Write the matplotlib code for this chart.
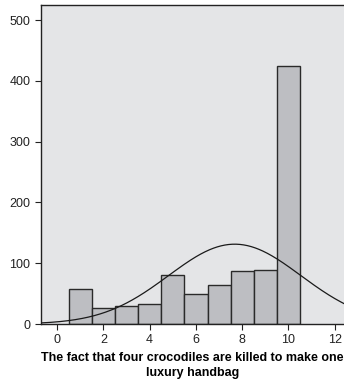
import numpy as np
import matplotlib.pyplot as plt

plt.rcParams['font.family'] = ['Liberation Sans', 'DejaVu Sans']

# Histogram data (response score vs. count)
scores = [1, 2, 3, 4, 5, 6, 7, 8, 9, 10]
counts = [57, 27, 29, 33, 81, 49, 65, 87, 89, 425]
xticks = [0, 2, 4, 6, 8, 10, 12]
yticks = [0, 100, 200, 300, 400, 500]
xlabel = "The fact that four crocodiles are killed to make one\nluxury handbag"

fig = plt.figure(figsize=(3.44, 3.83), dpi=100)
ax = fig.add_axes([0.119, 0.154, 0.881, 0.833])
ax.set_facecolor('#e4e5e7')

ax.bar(scores, counts, width=1.0, color='#bdbec2', edgecolor='#2a2a2a', linewidth=1.0, zorder=2)

# Fitted normal curve
s = np.array(scores, dtype=float)
c = np.array(counts, dtype=float)
n = c.sum()
mu = (s * c).sum() / n
sd = np.sqrt((c * (s - mu) ** 2).sum() / (n - 1))
xs = np.linspace(-0.7, 12.4, 400)
ys = n / (sd * np.sqrt(2 * np.pi)) * np.exp(-0.5 * ((xs - mu) / sd) ** 2)
ax.plot(xs, ys, color='#1a1a1a', linewidth=0.9, zorder=3)

ax.set_xlim(-0.7, 12.4)
ax.set_ylim(0, 525)
ax.set_xticks(xticks)
ax.set_yticks(yticks)
ax.tick_params(labelsize=9, length=4, width=0.8, colors='#222222')
for side in ['left', 'top', 'bottom']:
    ax.spines[side].set_color('#222222')
    ax.spines[side].set_linewidth(1.0)
ax.spines['right'].set_visible(False)
ax.set_xlabel(xlabel, fontsize=9, fontweight='bold', labelpad=4, linespacing=1.3)

fig.savefig('out.png', dpi=100)
